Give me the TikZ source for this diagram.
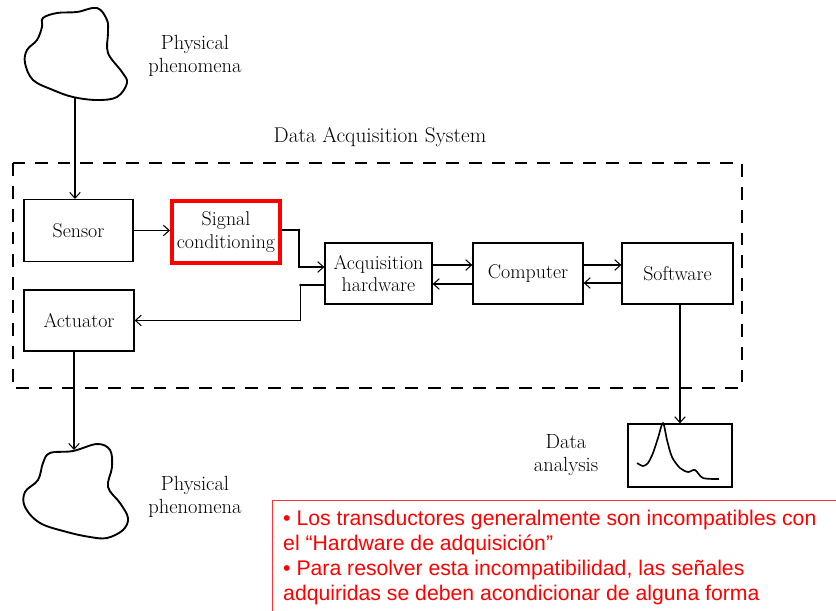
\documentclass[tikz,border=0pt]{standalone}
\usepackage{fontspec}
\newfontfamily\notefont{Liberation Sans}
\usetikzlibrary{arrows.meta}

\begin{document}
\begin{tikzpicture}[x=0.03cm, y=-0.03cm,
                    block/.style={draw, line width=1.1pt, minimum width=3.27cm, minimum height=1.85cm, align=center, inner sep=0pt, font=\fontsize{17}{19.5}\selectfont},
                    caption/.style={align=center, font=\fontsize{17.5}{19.5}\selectfont},
                    flow/.style={-{Straight Barb[length=5pt,width=9pt]}, line width=0.9pt},
                    blob/.style={line width=1.6pt, line join=round},
                    note/.style={align=left, anchor=north west, inner sep=0pt, text=red, font=\notefont\fontsize{18.1}{21.2}\selectfont},
                   ]
  \useasboundingbox (0,0) rectangle (836,610);

  % physical phenomena, in and out
  \draw[blob] plot[smooth cycle, tension=0.6] coordinates {
    (43,18) (57,13) (77,12) (97,8) (107,20) (108,33) (108,53) (122,72)
    (127,83) (117,97) (97,100) (73,97) (53,90) (33,80) (25,63) (27,50) (37,40) (42,27)};
  \coordinate (phen-in) at (75,97);
  \node[caption] (phen-in-label) at (195,56) {Physical\\phenomena};

  \draw[blob] plot[smooth cycle, tension=0.6] coordinates {
    (73,451) (97,444) (110,450) (112,467) (108,487) (120,503) (128,518) (123,530)
    (107,538) (90,537) (67,532) (40,523) (25,507) (25,492) (38,480) (43,463) (50,453)};
  \coordinate (phen-out) at (74,450);
  \node[caption] (phen-out-label) at (195,497) {Physical\\phenomena};

  % the acquisition system
  \node[caption, font=\fontsize{18.2}{20}\selectfont] (daq-label) at (380,137) {Data Acquisition System};
  \draw[line width=1.3pt, dash pattern=on 11pt off 8.5pt] (13,163) rectangle (742,388);

  \node[block] (sensor) at (78.5,230.5) {Sensor};
  \node[block, draw=red, line width=3.4pt, minimum width=3.24cm, minimum height=1.86cm] (sigcond) at (226,232) {Signal\\conditioning};
  \node[block, minimum width=3.21cm, minimum height=1.83cm] (acqhw) at (378.5,273.5) {Acquisition\\hardware};
  \node[block, minimum width=3.3cm, minimum height=1.83cm] (computer) at (528,273.5) {Computer};
  \node[block, minimum width=3.33cm, minimum height=1.83cm] (software) at (677.5,273.5) {Software};
  \node[block, minimum width=3.3cm, minimum height=1.83cm] (actuator) at (79,320.5) {Actuator};

  \draw[flow] (phen-in) -- (phen-in |- sensor.north);
  \draw[flow] (sensor.east) -- (sensor.east -| sigcond.west);
  \draw[flow] ([yshift=0.06cm]sigcond.east) -- ++(17,0) coordinate (jn-a) |- ([yshift=0.195cm]acqhw.west);
  \draw[flow] ([yshift=-0.345cm]acqhw.west) -- ++(-24,0) coordinate (jn-b) |- (actuator.east);
  \fill (jn-a) circle (1.3);
  \fill (jn-b) circle (1.3);

  \draw[flow] ([yshift=0.255cm]acqhw.east) -- ([yshift=0.255cm]acqhw.east -| computer.west);
  \draw[flow] ([yshift=-0.315cm]computer.west) -- ([yshift=-0.315cm]computer.west -| acqhw.east);
  \draw[flow] ([yshift=0.255cm]computer.east) -- ([yshift=0.255cm]computer.east -| software.west);
  \draw[flow] ([yshift=-0.285cm]software.west) -- ([yshift=-0.285cm]software.west -| computer.east);

  \draw[flow] (actuator.south -| phen-out) -- (phen-out);

  % data analysis
  \node[block, minimum width=3.12cm, minimum height=1.89cm] (databox) at (680,455.5) {};
  \node[caption] (data-label) at (566,455) {Data\\analysis};
  \draw[flow] (databox.north |- software.south) -- (databox.north);
  \draw[line width=1.4pt, line join=round] plot[smooth, tension=0.5] coordinates {
    (637,463) (643,466) (648,463) (653,453) (658,438) (663,423) (667,440) (672,457)
    (680,468) (688,472) (695,470) (703,478) (719,479)};

  % remark
  \draw[red!80, line width=0.8pt] (272,500) rectangle (850,620);
  \node[note] (remark) at (283,510) {%
    • Los transductores generalmente son incompatibles con\\
    el “Hardware de adquisición”\\
    • Para resolver esta incompatibilidad, las señales\\
    adquiridas se deben acondicionar de alguna forma};
\end{tikzpicture}
\end{document}
